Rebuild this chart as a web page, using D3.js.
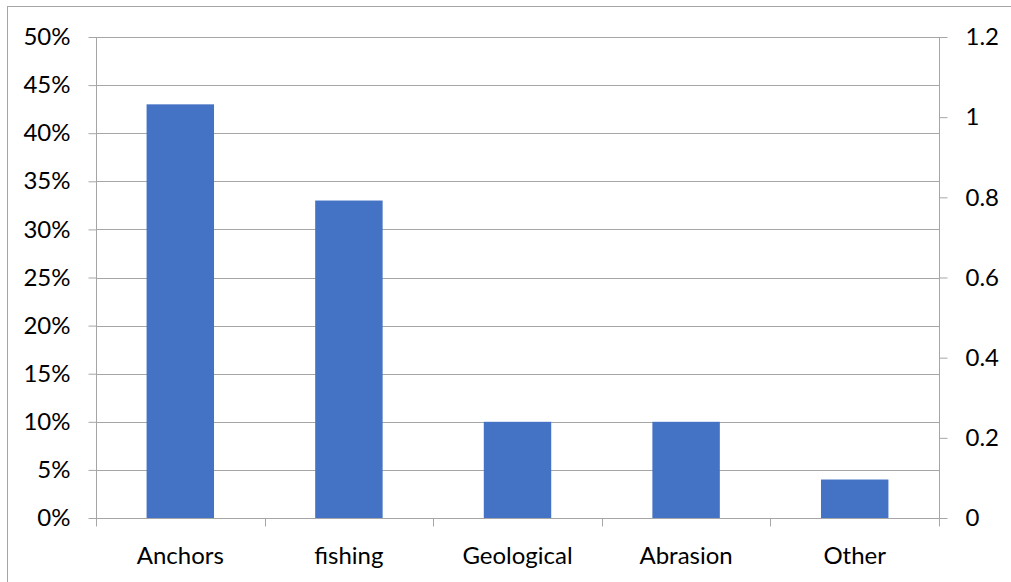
<!DOCTYPE html>
<html>
<head>
<meta charset="utf-8">
<script src="https://cdn.jsdelivr.net/npm/d3@7"></script>
<style>
  html, body { margin: 0; padding: 0; background: #fff; }
  svg { display: block; }
  .lbl { font-family: Lato, "Open Sans", sans-serif; font-size: 24px; fill: #000; }
</style>
</head>
<body>
<svg id="chart" width="1011" height="582"></svg>
<script>
// Causes of damage and their share
const categories = ["Anchors", "fishing", "Geological", "Abrasion", "Other"];
const shares = [0.43, 0.33, 0.10, 0.10, 0.04];
const leftTicks = [0, 0.05, 0.10, 0.15, 0.20, 0.25, 0.30, 0.35, 0.40, 0.45, 0.50];
const rightTicks = [0, 0.2, 0.4, 0.6, 0.8, 1, 1.2];

const svg = d3.select("#chart");
const margin = { left: 96, right: 72, top: 37, bottom: 64 };
const W = 1011, H = 582;
const x0 = margin.left, x1 = W - margin.right;
const yTop = margin.top, yBot = H - margin.bottom;
const gridColor = "#a6a6a6";

// outer frame
svg.append("rect")
  .attr("x", 7.5).attr("y", 6.5)
  .attr("width", 1100).attr("height", 700)
  .attr("fill", "none").attr("stroke", "#a6a6a6").attr("stroke-width", 1);

const x = d3.scaleBand().domain(categories).range([x0, x1]).paddingInner(0.6).paddingOuter(0.3);
const yL = d3.scaleLinear().domain([0, 0.5]).range([yBot, yTop]);
const yR = d3.scaleLinear().domain([0, 1.2]).range([yBot, yTop]);

// horizontal gridlines at left-axis ticks
svg.append("g").selectAll("line").data(leftTicks).join("line")
  .attr("x1", x0).attr("x2", x1)
  .attr("y1", d => Math.round(yL(d)) + 0.5).attr("y2", d => Math.round(yL(d)) + 0.5)
  .attr("stroke", gridColor).attr("stroke-width", 1);

// bars
svg.append("g").selectAll("rect").data(categories).join("rect")
  .attr("x", d => x(d))
  .attr("width", x.bandwidth())
  .attr("y", (d, i) => yL(shares[i]))
  .attr("height", (d, i) => yBot - yL(shares[i]))
  .attr("fill", "#4472c4");

// left axis
const leftAxis = svg.append("g")
  .attr("transform", `translate(${x0 + 0.5},0)`)
  .call(d3.axisLeft(yL).tickValues(leftTicks).tickFormat(d3.format(".0%")).tickSize(8).tickPadding(18));
leftAxis.select(".domain").attr("stroke", gridColor).attr("d", `M0,${yTop}V${yBot + 8}`);
leftAxis.selectAll(".tick line").attr("stroke", gridColor);
leftAxis.selectAll(".tick text").attr("class", "lbl").attr("fill", "#000");

// right axis
const rightAxis = svg.append("g")
  .attr("transform", `translate(${x1 + 0.5},0)`)
  .call(d3.axisRight(yR).tickValues(rightTicks).tickFormat(d => String(d)).tickSize(8).tickPadding(18));
rightAxis.select(".domain").attr("stroke", gridColor).attr("d", `M0,${yTop}V${yBot + 8}`);
rightAxis.selectAll(".tick line").attr("stroke", gridColor);
rightAxis.selectAll(".tick text").attr("class", "lbl").attr("fill", "#000");

// category axis
const step = (x1 - x0) / categories.length;
const bottom = svg.append("g").attr("transform", `translate(0,${yBot + 0.5})`);
bottom.selectAll("line.sep").data(d3.range(categories.length + 1)).join("line")
  .attr("class", "sep")
  .attr("x1", i => Math.round(x0 + i * step) + 0.5).attr("x2", i => Math.round(x0 + i * step) + 0.5)
  .attr("y1", 0).attr("y2", 8)
  .attr("stroke", gridColor);
bottom.selectAll("text").data(categories).join("text")
  .attr("class", "lbl")
  .attr("x", d => x(d) + x.bandwidth() / 2)
  .attr("y", 45)
  .attr("text-anchor", "middle")
  .text(d => d);
</script>
</body>
</html>
